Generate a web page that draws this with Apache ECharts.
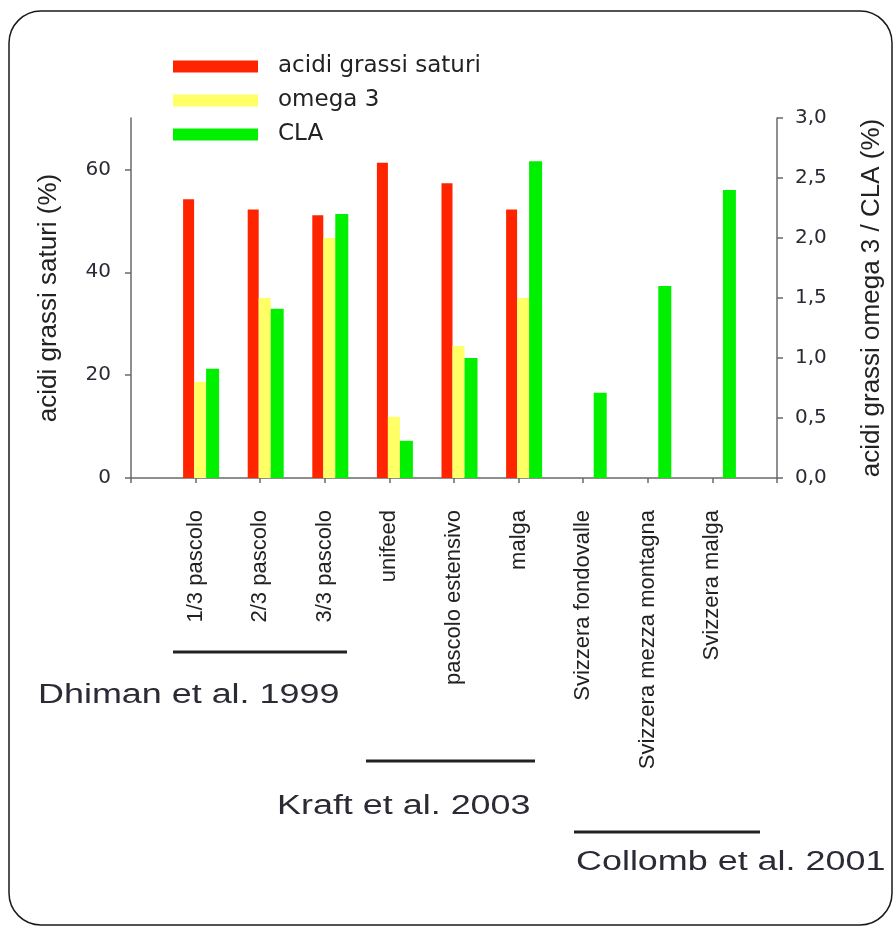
<!DOCTYPE html>
<html>
<head>
<meta charset="utf-8">
<script src="https://cdn.jsdelivr.net/npm/echarts@6/dist/echarts.min.js"></script>
<style>
  html, body { margin: 0; padding: 0; background: #fff; }
  #chart { width: 893px; height: 926px; }
</style>
</head>
<body>
<div id="chart"></div>
<script>
// categorie (asse x)
var categories = ['1/3 pascolo', '2/3 pascolo', '3/3 pascolo', 'unifeed', 'pascolo estensivo', 'malga',
    'Svizzera fondovalle', 'Svizzera mezza montagna', 'Svizzera malga'];
// acidi grassi saturi (%) - asse sinistro
var saturi = [54.2, 52.2, 51.1, 61.3, 57.3, 52.2, null, null, null];
// omega 3 (%) - asse destro
var omega3 = [0.80, 1.50, 2.00, 0.51, 1.10, 1.50, null, null, null];
// CLA (%) - asse destro
var cla = [0.91, 1.41, 2.20, 0.31, 1.00, 2.64, 0.71, 1.60, 2.40];
var leftTicks = [0, 20, 40, 60];
var studies = ['Dhiman et al. 1999', 'Kraft et al. 2003', 'Collomb et al. 2001'];

// l'asse ha un posto vuoto ai due estremi
var xCats = [''].concat(categories, ['']);
function pad(arr) { return [null].concat(arr, [null]); }

var myChart = echarts.init(document.getElementById('chart'));
var axisCol = '#6a6a6a';
var txtCol = '#2b2b35';

var option = {
    backgroundColor: '#fff',
    animation: false,
    legend: {
        orient: 'vertical',
        left: 173,
        top: 55,
        padding: 0,
        itemGap: 11,
        itemWidth: 85,
        itemHeight: 12,
        icon: 'rect',
        data: ['acidi grassi saturi', 'omega 3', 'CLA'],
        textStyle: { fontFamily: 'DejaVu Sans', fontSize: 23, color: '#222', padding: [0, 0, 0, 15] }
    },
    grid: { left: 131, right: 108, top: 118, bottom: 448 },
    xAxis: {
        type: 'category',
        data: xCats,
        boundaryGap: false,
        axisLine: { lineStyle: { color: axisCol, width: 1.5 } },
        axisTick: { length: 5, lineStyle: { color: axisCol, width: 1.5 } },
        axisLabel: {
            rotate: 90, margin: 32, interval: 0,
            fontFamily: 'Liberation Sans', fontSize: 22, color: '#222'
        }
    },
    yAxis: [
        {
            type: 'value', min: 0, max: 70,
            name: 'acidi grassi saturi (%)',
            nameLocation: 'middle', nameGap: 69,
            nameTextStyle: { fontFamily: 'Liberation Sans', fontSize: 26, color: '#222' },
            axisLine: { show: true, lineStyle: { color: axisCol, width: 1.5 } },
            axisTick: { show: true, length: 6, customValues: leftTicks, lineStyle: { color: axisCol, width: 1.5 } },
            axisLabel: { customValues: leftTicks, margin: 20, fontFamily: 'DejaVu Sans', fontSize: 20, color: txtCol },
            splitLine: { show: false }
        },
        {
            type: 'value', min: 0, max: 3, interval: 0.5,
            position: 'right',
            name: 'acidi grassi omega 3 / CLA (%)',
            nameLocation: 'middle', nameGap: 82, nameRotate: 90,
            nameTextStyle: { fontFamily: 'Liberation Sans', fontSize: 26, color: '#222' },
            axisLine: { show: true, lineStyle: { color: axisCol, width: 1.5 } },
            axisTick: { show: true, length: 6, lineStyle: { color: axisCol, width: 1.5 } },
            axisLabel: {
                margin: 18, fontFamily: 'DejaVu Sans', fontSize: 20, color: txtCol,
                formatter: function (v) { return v.toFixed(1).replace('.', ','); }
            },
            splitLine: { show: false }
        }
    ],
    series: [
        // serie vuota: sposta i gruppi di barre a destra del tick come nell'originale
        { name: '_spazio', type: 'bar', data: [], barWidth: 11, barGap: 0, silent: true },
        {
            name: 'acidi grassi saturi', type: 'bar', yAxisIndex: 0, data: pad(saturi),
            barWidth: 11, barGap: 0, itemStyle: { color: '#ff2400' }
        },
        {
            name: 'omega 3', type: 'bar', yAxisIndex: 1, data: pad(omega3),
            barWidth: 12, barGap: 0, itemStyle: { color: '#ffff66' }
        },
        {
            name: 'CLA', type: 'bar', yAxisIndex: 1, data: pad(cla),
            barWidth: 13, barGap: 0, itemStyle: { color: '#00f000' }
        }
    ],
    graphic: [
        {
            type: 'rect', silent: true,
            shape: { x: 9, y: 11, width: 883, height: 914, r: 32 },
            style: { fill: null, stroke: '#1a1a1a', lineWidth: 1.5 }
        },
        { type: 'line', shape: { x1: 173, y1: 652, x2: 347, y2: 652 }, style: { stroke: '#222', lineWidth: 3 } },
        { type: 'line', shape: { x1: 366, y1: 761, x2: 535, y2: 761 }, style: { stroke: '#222', lineWidth: 3 } },
        { type: 'line', shape: { x1: 574, y1: 832, x2: 760, y2: 832 }, style: { stroke: '#222', lineWidth: 3 } },
        {
            type: 'text', x: 38, y: 696, scaleX: 1.33,
            style: { text: studies[0], font: '27px "Liberation Sans"', fill: txtCol, verticalAlign: 'middle' }
        },
        {
            type: 'text', x: 277, y: 807, scaleX: 1.33,
            style: { text: studies[1], font: '27px "Liberation Sans"', fill: txtCol, verticalAlign: 'middle' }
        },
        {
            type: 'text', x: 576, y: 863, scaleX: 1.33,
            style: { text: studies[2], font: '27px "Liberation Sans"', fill: txtCol, verticalAlign: 'middle' }
        }
    ]
};
myChart.setOption(option);
</script>
</body>
</html>
